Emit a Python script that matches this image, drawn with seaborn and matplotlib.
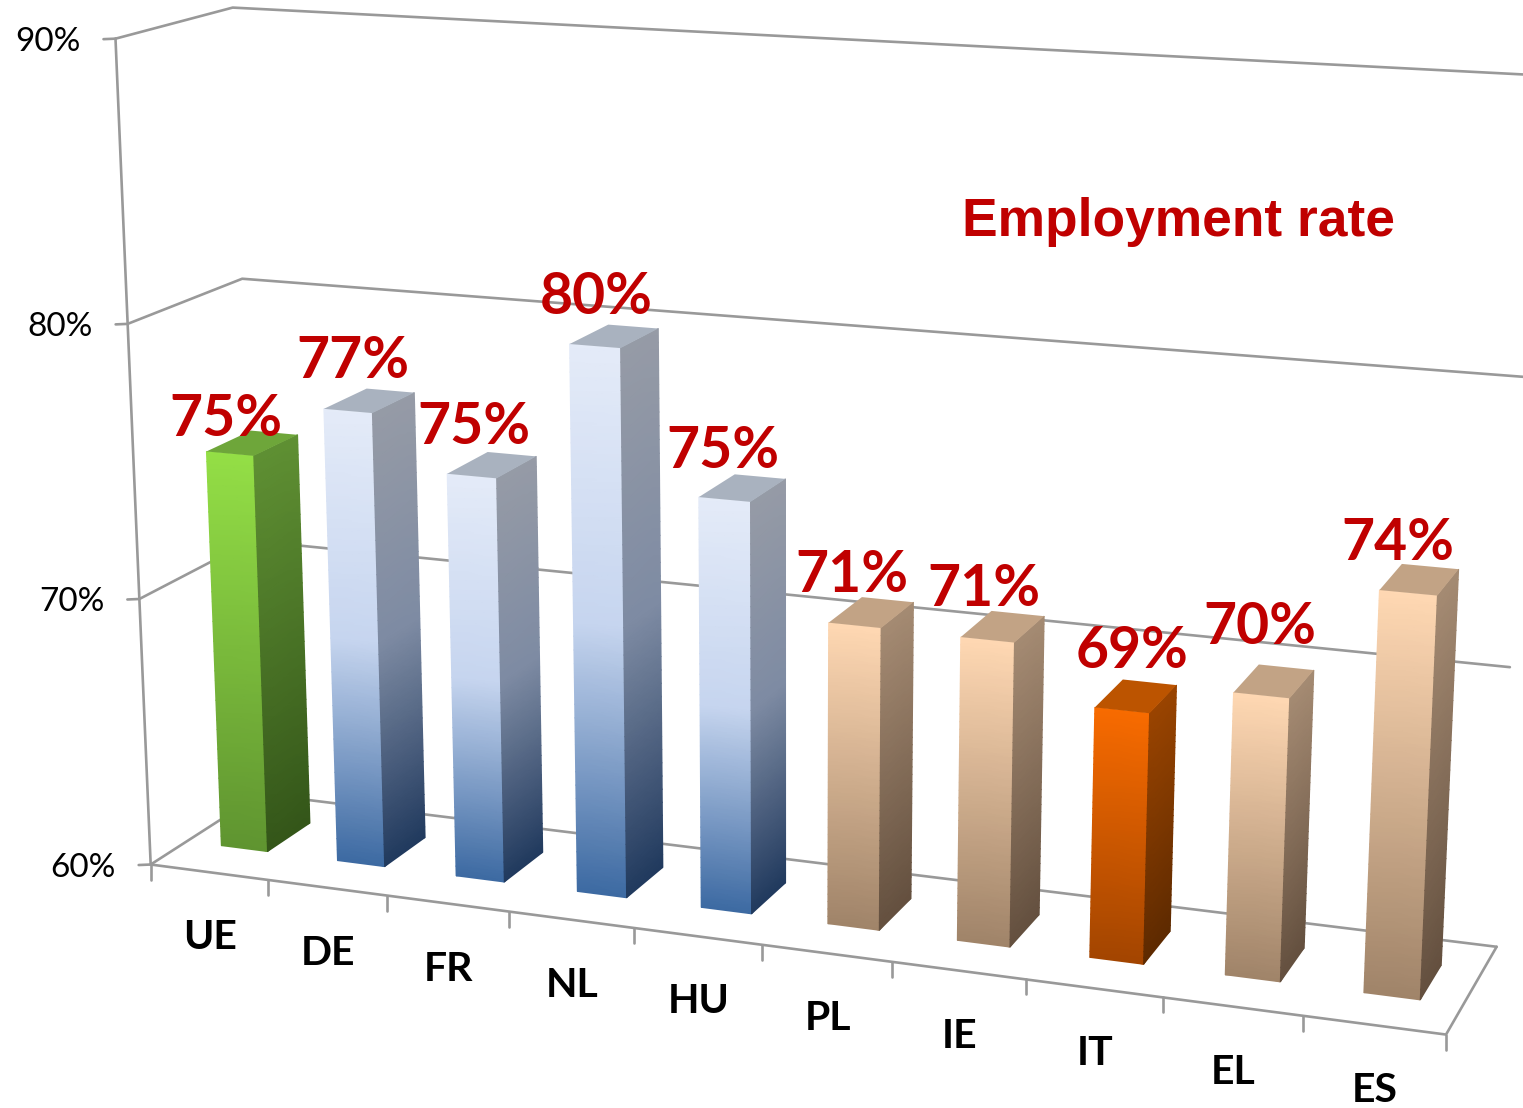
import numpy as np
import matplotlib
matplotlib.use("Agg")
import matplotlib.pyplot as plt
from matplotlib.colors import LinearSegmentedColormap, to_rgb
from matplotlib.transforms import Affine2D, Transform
import seaborn as sns

# ---------- data ----------
COUNTRIES = ["UE", "DE", "FR", "NL", "HU", "PL", "IE", "IT", "EL", "ES"]
VALUES = [74.9, 76.85, 74.9, 79.9, 74.9, 70.9, 70.87, 68.9, 69.93, 73.9]
VALUE_LABELS = ["75%", "77%", "75%", "80%", "75%", "71%", "71%", "69%", "70%", "74%"]
GROUPS = ["eu", "blue", "blue", "blue", "blue", "peach", "peach", "it", "peach", "peach"]
Y_TICKS = [60, 70, 80, 90]
TITLE = "Employment rate"

# ---------- layout ----------
W, H = 1523, 1108
BAR_WIDTH = 0.40
Z_FRONT, Z_BACK = 0.32, 0.72
GREY = "#999999"
RED = "#C00000"
LABEL_CENTRES = [(226, 419), (353, 361), (474, 428), (596, 298), (723, 451),
                 (852, 576), (984, 589), (1132, 651), (1260, 628), (1398, 544)]

STYLE = {
    "blue": dict(front=[(0, "#E4EBF8"), (.5, "#C6D5EF"), (1, "#3D6AA2")],
                 side=[(0, "#969BA6"), (.5, "#7E8BA3"), (1, "#213A5E")], top="#A9B2BF"),
    "peach": dict(front=[(0, "#FFD8B3"), (1, "#A08469")],
                  side=[(0, "#A58B73"), (1, "#64503F")], top="#C2A385"),
    "eu": dict(front=[(0, "#94DF46"), (1, "#5F9430")],
               side=[(0, "#5F9033"), (1, "#345619")], top="#6EA63A"),
    "it": dict(front=[(0, "#F86B00"), (1, "#A34500")],
               side=[(0, "#9A4400"), (1, "#5E2A00")], top="#BC5400"),
}

# ---------- perspective fitted to the frame of the 3D box ----------
frame_x = np.arange(11) - 0.5
frame_front = [(152, 864), (270, 880), (388, 896), (510, 912), (634, 928), (762, 945),
               (892, 962), (1026, 980), (1162, 998), (1302, 1015), (1446, 1036)]
corr = [((x, 60, 0), p) for x, p in zip(frame_x, frame_front)]
corr += [((-.5, 70, 0), (138, 597)), ((-.5, 80, 0), (126, 323)), ((-.5, 90, 0), (115, 39)),
         ((-.5, 60, 1), (258, 792)), ((-.5, 70, 1), (250, 545)), ((-.5, 80, 1), (243, 279)),
         ((-.5, 90, 1), (235, 7)), ((9.5, 60, 1), (1498, 945)), ((9.5, 70, 1), (1510, 667)),
         ((9.5, 80, 1), (1523, 377)), ((9.5, 90, 1), (1538, 75))]


def world(x, y, z):
    return np.stack([np.asarray(x, float), (np.asarray(y, float) - 60) / 10,
                     np.asarray(z, float), np.ones_like(np.asarray(x, float))], -1)


rows = []
for (x, y, z), (u, v) in corr:
    w = world(x, y, z)
    u, v = u / 1000, v / 1000
    rows.append(np.r_[w, np.zeros(4), -u * w])
    rows.append(np.r_[np.zeros(4), w, -v * w])
P = np.linalg.svd(np.array(rows))[2][-1].reshape(3, 4)


def proj(x, y, z):
    x, y, z = np.broadcast_arrays(x, y, z)
    q = world(x, y, z) @ P.T
    return 1000 * q[..., 0] / q[..., 2], 1000 * q[..., 1] / q[..., 2]


class FacePlane(Transform):
    """Maps (category, value) on a plane of constant depth to picture pixels."""
    input_dims = output_dims = 2
    is_affine = False

    def __init__(self, z):
        super().__init__()
        self.z = z

    def transform_non_affine(self, values):
        values = np.asarray(values, float)
        return np.column_stack(proj(values[:, 0], values[:, 1], self.z))


# ---------- figure ----------
sns.set_theme(style="white")
fig = plt.figure(figsize=(W / 100, H / 100), dpi=100, facecolor="white")
ax = fig.add_axes([0, 0, 1, 1])
ov = fig.add_axes([0, 0, 1, 1])
ov.patch.set_alpha(0)
pix = Affine2D().scale(1, -1).translate(0, H)

flat = [STYLE[g]["front"][0][1] for g in GROUPS]
sns.barplot(x=COUNTRIES, y=VALUES, hue=COUNTRIES, palette=flat, width=BAR_WIDTH,
            dodge=False, legend=False, saturation=1, ax=ax)
ax.set_xlim(-.5, 9.5)
ax.set_ylim(60, 90)
ax.axis("off")
ov.set_xlim(-.5, 9.5)
ov.set_ylim(60, 90)
ov.axis("off")
LW = 1.9


def line(xs, ys, zs, z=1):
    u, v = proj(np.array(xs, float), np.array(ys, float), np.array(zs, float))
    ov.plot(u, v, color=GREY, lw=LW, transform=pix, clip_on=True, zorder=z,
            solid_capstyle="round", solid_joinstyle="round", scalex=False, scaley=False)


# box frame
for t in Y_TICKS:
    line([-.5, -.5, 9.5], [t, t, t], [0, 1, 1])
    u, v = proj(-.5, t, 0)
    ov.plot([u - 12, u], [v + .5, v], color=GREY, lw=LW, transform=pix, zorder=1, scalex=False, scaley=False)
    ov.text(u - 35, v + 3.5, f"{t}%", transform=pix, ha="right", va="center", fontsize=24,
            family="Lato", color="black", zorder=50)
line([-.5, -.5], [60, 90], [0, 0])
line([-.5, 9.5, 9.5], [60, 60, 60], [0, 0, 1])
for x in frame_x:
    u, v = proj(x, 60, 0)
    ov.plot([u, u], [v, v + 15], color=GREY, lw=LW, transform=pix, zorder=1, scalex=False, scaley=False)


def ramp(stops):
    return LinearSegmentedColormap.from_list("r", [(s, to_rgb(c)) for s, c in stops], N=512)


def shaded(u, v, stops, order):
    frac = np.repeat(np.linspace(0, 1, u.shape[0])[:, None], 2, axis=1)
    ov.pcolormesh(u, v, frac, cmap=ramp(stops), vmin=0, vmax=1, transform=pix,
                  shading="gouraud", zorder=order, clip_on=False)


# bars: geometry comes from the seaborn rectangles, then goes through the perspective
N = 40
for i, (bar, group) in enumerate(zip(ax.patches, GROUPS)):
    st = STYLE[group]
    x0, x1 = bar.get_x(), bar.get_x() + bar.get_width()
    top = bar.get_height()
    bar.set_y(60)
    bar.set_height(top - 60)
    bar.set_transform(FacePlane(Z_FRONT) + pix)
    bar.set_clip_on(False)
    ys = np.linspace(top, 60, N + 1)[:, None]

    u, v = proj(np.array([[x0, x1]]), ys, Z_FRONT)
    shaded(u, v, st["front"], 11 + 3 * i)
    u, v = proj(x1, ys, np.array([[Z_FRONT, Z_BACK]]))
    shaded(u, v, st["side"], 11 + 3 * i)
    u, v = proj(np.array([x0, x1, x1, x0]), top, np.array([Z_FRONT, Z_FRONT, Z_BACK, Z_BACK]))
    ov.fill(u, v, color=st["top"], transform=pix, lw=0, zorder=11 + 3 * i, clip_on=False)

    # value and category labels
    cx, cy = LABEL_CENTRES[i]
    ov.text(cx, cy, VALUE_LABELS[i], transform=pix, ha="center", va="center", fontsize=41,
            family="Lato", weight="bold", color=RED, zorder=60)
    u, v = proj(i, 60, 0)
    ov.text(u + 1, v + 65.5, COUNTRIES[i], transform=pix, ha="center", va="center", fontsize=29.5,
            family="Lato", weight="bold", color="black", zorder=60)

ov.text(1178, 222, TITLE, transform=pix, ha="center", va="center", fontsize=38.4,
        family="Liberation Sans", weight="bold", color=RED, zorder=60)
ov.set_xlim(-.5, 9.5)
ov.set_ylim(60, 90)
fig.savefig("out.png", dpi=100, facecolor="white")
